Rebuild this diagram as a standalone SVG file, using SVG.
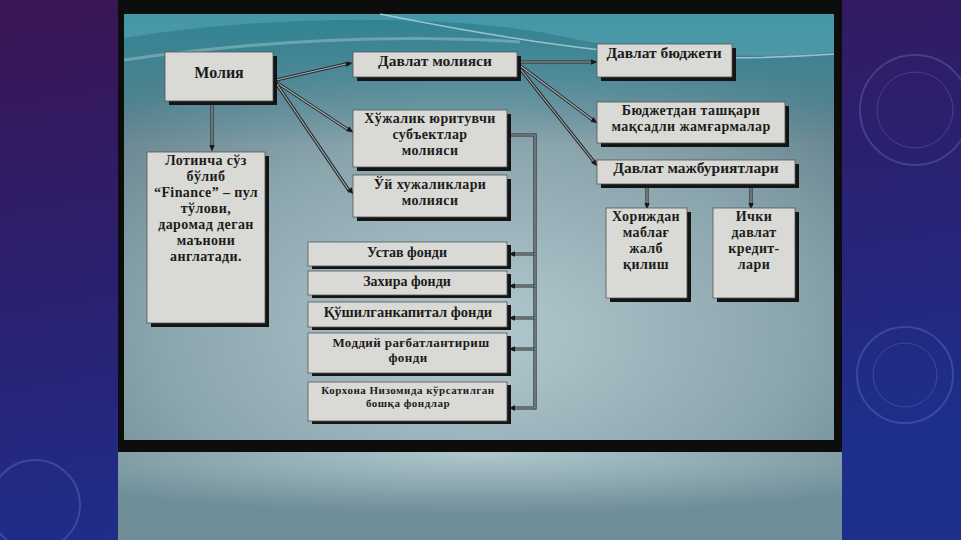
<svg xmlns="http://www.w3.org/2000/svg" width="961" height="540" viewBox="0 0 961 540">
<defs>
<linearGradient id="side" x1="0" y1="0" x2="0.3" y2="1">
<stop offset="0" stop-color="#3a1553"/>
<stop offset="0.5" stop-color="#2b2070"/>
<stop offset="1" stop-color="#1d2f8a"/>
</linearGradient>
<radialGradient id="slide" cx="0.5" cy="0.75" r="0.75">
<stop offset="0" stop-color="#b2c9ce"/>
<stop offset="0.6" stop-color="#8ba5ad"/>
<stop offset="1" stop-color="#5f7f8a"/>
</radialGradient>
<radialGradient id="lower" cx="0.5" cy="0" r="0.7">
<stop offset="0" stop-color="#b0c8cd"/>
<stop offset="1" stop-color="#6f8e98"/>
</radialGradient>
<linearGradient id="topwave" x1="0" y1="0" x2="0" y2="1">
<stop offset="0" stop-color="#2d8596" stop-opacity="0.95"/>
<stop offset="1" stop-color="#2d8596" stop-opacity="0"/>
</linearGradient>
<marker id="ah" viewBox="0 0 10 10" refX="9" refY="5" markerWidth="7" markerHeight="7" markerUnits="userSpaceOnUse" orient="auto">
<path d="M0,1 L10,5 L0,9 Z" fill="#1a1a1a"/>
</marker>
<style>
.box{fill:#d9d9d6;stroke:#555;stroke-width:0.8}
.sh{fill:#141414}
.t{font-family:"Liberation Serif","Times New Roman",serif;font-weight:bold;fill:#1c1c1c;text-anchor:middle}
.s{font-size:15.5px}
.m{font-size:14px;letter-spacing:0.4px}
.f{font-size:14px}
.c{fill:none;stroke:#2a2a2a;stroke-width:3.2}
.ci{fill:none;stroke:#9fb4ba;stroke-width:1.1}
.ring{fill:none;stroke:#6a7fd0;stroke-opacity:0.35}
</style>
</defs>

<!-- side panels -->
<rect x="0" y="0" width="961" height="540" fill="url(#side)"/>
<circle class="ring" cx="915" cy="110" r="55" stroke-width="2"/>
<circle class="ring" cx="915" cy="110" r="38" stroke-width="1"/>
<circle class="ring" cx="905" cy="375" r="48" stroke-width="2"/>
<circle class="ring" cx="905" cy="375" r="32" stroke-width="1"/>
<circle class="ring" cx="35" cy="505" r="45" stroke-width="2"/>

<!-- slide frame -->
<rect x="118" y="0" width="724" height="452" fill="#0d0d0d"/>
<rect x="118" y="452" width="724" height="88" fill="url(#lower)"/>
<rect x="124" y="14" width="710" height="426" fill="url(#slide)"/>
<rect x="124" y="14" width="710" height="130" fill="url(#topwave)"/>
<path d="M124,38 C300,10 480,18 560,36 C650,56 760,60 834,52 L834,14 L124,14 Z" fill="#5fb0bf" fill-opacity="0.45"/>
<path d="M380,14 C460,30 540,44 620,52 C700,60 780,58 834,54" fill="none" stroke="#d8eef2" stroke-opacity="0.6" stroke-width="1.5"/>
<path d="M124,60 C260,40 400,34 520,42" fill="none" stroke="#bfe2e8" stroke-opacity="0.35" stroke-width="3"/>

<!-- connectors -->
<g id="connectors">
<path class="c" d="M276,80 L350,63"/><path class="ci" d="M276,80 L350,63"/>
<path class="c" d="M276,82 L350,131"/><path class="ci" d="M276,82 L350,131"/>
<path class="c" d="M276,83 L350,192"/><path class="ci" d="M276,83 L350,192"/>
<path class="c" d="M212,103 L212,147"/><path class="ci" d="M212,103 L212,147"/>
<path class="c" d="M517,62 L593,62"/><path class="ci" d="M517,62 L593,62"/>
<path class="c" d="M518,64 L594,121"/><path class="ci" d="M518,64 L594,121"/>
<path class="c" d="M518,66 L595,163"/><path class="ci" d="M518,66 L595,163"/>
<path class="c" d="M647,186 L647,205"/><path class="ci" d="M647,186 L647,205"/>
<path class="c" d="M751,186 L751,205"/><path class="ci" d="M751,186 L751,205"/>
<path class="c" d="M509,135 L535,135 L535,408 L512,408"/><path class="ci" d="M509,135 L535,135 L535,408 L512,408"/>
<path class="c" d="M535,254 L512,254 M535,286 L512,286 M535,318 L512,318 M535,349 L512,349"/>
<path class="ci" d="M535,254 L512,254 M535,286 L512,286 M535,318 L512,318 M535,349 L512,349"/>
<g stroke="none">
<line x1="276" y1="80" x2="352" y2="63" stroke="none" marker-end="url(#ah)"/>
<line x1="276" y1="82" x2="353" y2="132" stroke="none" marker-end="url(#ah)"/>
<line x1="276" y1="83" x2="353" y2="194" stroke="none" marker-end="url(#ah)"/>
<line x1="212" y1="103" x2="212" y2="151" stroke="none" marker-end="url(#ah)"/>
<line x1="517" y1="62" x2="597" y2="62" stroke="none" marker-end="url(#ah)"/>
<line x1="518" y1="64" x2="597" y2="123" stroke="none" marker-end="url(#ah)"/>
<line x1="518" y1="66" x2="597" y2="166" stroke="none" marker-end="url(#ah)"/>
<line x1="647" y1="186" x2="647" y2="209" stroke="none" marker-end="url(#ah)"/>
<line x1="751" y1="186" x2="751" y2="209" stroke="none" marker-end="url(#ah)"/>
<line x1="535" y1="254" x2="509" y2="254" stroke="none" marker-end="url(#ah)"/>
<line x1="535" y1="286" x2="509" y2="286" stroke="none" marker-end="url(#ah)"/>
<line x1="535" y1="318" x2="509" y2="318" stroke="none" marker-end="url(#ah)"/>
<line x1="535" y1="349" x2="509" y2="349" stroke="none" marker-end="url(#ah)"/>
<line x1="535" y1="408" x2="509" y2="408" stroke="none" marker-end="url(#ah)"/>
</g>
</g>

<g id="moliya">
<rect class="sh" x="169" y="56" width="108" height="49"/>
<rect class="box" x="165" y="52" width="108" height="49"/>
<text class="t" x="219" y="78" font-size="16">Молия</text>
</g>

<g id="lotincha">
<rect class="sh" x="151" y="156" width="118" height="171"/>
<rect class="box" x="147" y="152" width="118" height="171"/>
<text class="t m"><tspan x="206" y="165">Лотинча сўз</tspan><tspan x="206" y="181">бўлиб</tspan><tspan x="206" y="197">“Finance” – пул</tspan><tspan x="206" y="213">тўлови,</tspan><tspan x="206" y="229">даромад деган</tspan><tspan x="206" y="245">маънони</tspan><tspan x="206" y="261">англатади.</tspan></text>
</g>

<g id="davlat-moliyasi">
<rect class="sh" x="357" y="56" width="164" height="25"/>
<rect class="box" x="353" y="52" width="164" height="25"/>
<text class="t s" x="435" y="66">Давлат молияси</text>
</g>

<g id="xojalik">
<rect class="sh" x="357" y="114" width="154" height="57"/>
<rect class="box" x="353" y="110" width="154" height="57"/>
<text class="t m"><tspan x="430" y="123">Хўжалик юритувчи</tspan><tspan x="430" y="139">субъектлар</tspan><tspan x="430" y="155">молияси</tspan></text>
</g>

<g id="uy">
<rect class="sh" x="357" y="179" width="154" height="42"/>
<rect class="box" x="353" y="175" width="154" height="42"/>
<text class="t m"><tspan x="430" y="189">Ўй хужаликлари</tspan><tspan x="430" y="205">молияси</tspan></text>
</g>

<g id="byudjet">
<rect class="sh" x="601" y="48" width="135" height="33"/>
<rect class="box" x="597" y="44" width="135" height="33"/>
<text class="t s" x="664" y="58">Давлат бюджети</text>
</g>

<g id="byudjetdan">
<rect class="sh" x="601" y="106" width="188" height="41"/>
<rect class="box" x="597" y="102" width="188" height="41"/>
<text class="t m"><tspan x="691" y="115">Бюджетдан ташқари</tspan><tspan x="691" y="131">мақсадли жамғармалар</tspan></text>
</g>

<g id="majburiyat">
<rect class="sh" x="601" y="164" width="198" height="24"/>
<rect class="box" x="597" y="160" width="198" height="24"/>
<text class="t s" x="696" y="173">Давлат мажбуриятлари</text>
</g>

<g id="xorijdan">
<rect class="sh" x="610" y="212" width="81" height="90"/>
<rect class="box" x="606" y="208" width="81" height="90"/>
<text class="t m"><tspan x="646" y="221">Хориждан</tspan><tspan x="646" y="237">маблағ</tspan><tspan x="646" y="253">жалб</tspan><tspan x="646" y="269">қилиш</tspan></text>
</g>

<g id="ichki">
<rect class="sh" x="717" y="212" width="82" height="90"/>
<rect class="box" x="713" y="208" width="82" height="90"/>
<text class="t m"><tspan x="754" y="221">Ички</tspan><tspan x="754" y="237">давлат</tspan><tspan x="754" y="253">кредит-</tspan><tspan x="754" y="269">лари</tspan></text>
</g>

<g id="ustav">
<rect class="sh" x="312" y="245" width="199" height="24"/>
<rect class="box" x="308" y="242" width="199" height="24"/>
<text class="t f" x="407" y="257">Устав фонди</text>
</g>

<g id="zaxira">
<rect class="sh" x="312" y="274" width="199" height="24"/>
<rect class="box" x="308" y="271" width="199" height="24"/>
<text class="t f" x="407" y="286">Захира фонди</text>
</g>

<g id="qoshilgan">
<rect class="sh" x="312" y="305" width="199" height="25"/>
<rect class="box" x="308" y="302" width="199" height="25"/>
<text class="t" x="408" y="317" font-size="14.5">Қўшилганкапитал фонди</text>
</g>

<g id="moddiy">
<rect class="sh" x="312" y="336" width="199" height="40"/>
<rect class="box" x="308" y="333" width="199" height="40"/>
<text class="t" font-size="13" letter-spacing="0.4"><tspan x="411" y="347">Моддий рағбатлантириш</tspan><tspan x="408" y="362">фонди</tspan></text>
</g>

<g id="korxona">
<rect class="sh" x="312" y="385" width="199" height="39"/>
<rect class="box" x="308" y="382" width="199" height="39"/>
<text class="t" font-size="11" letter-spacing="0.5"><tspan x="408" y="394">Корхона Низомида кўрсатилган</tspan><tspan x="408" y="407">бошқа фондлар</tspan></text>
</g>
</svg>
